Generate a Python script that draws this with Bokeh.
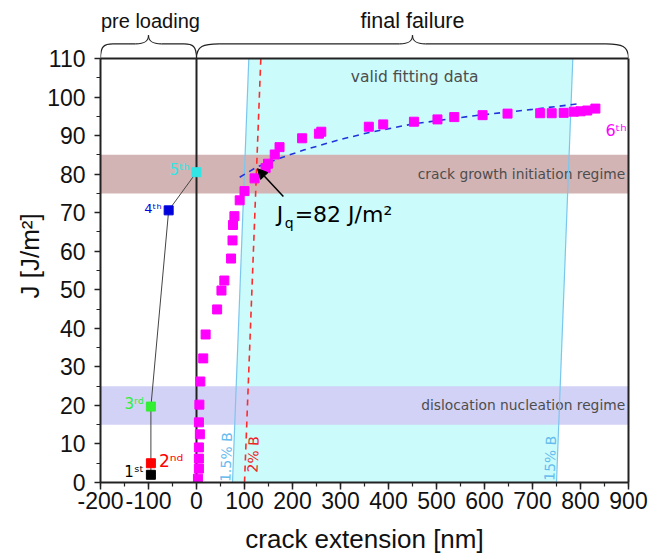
import numpy as np
from bokeh.plotting import figure
from bokeh.models import (SingleIntervalTicker, FixedTicker, LinearAxis, Arrow, NormalHead,
                          NumeralTickFormatter, Label, Title)
from bokeh.core.properties import value
from bokeh.embed import file_html
from bokeh.resources import INLINE

# ---------------- data ----------------
crack_ext = [3, 5, 5, 5, 7, 5, 6, 8, 14, 19, 43, 52, 58, 72, 75, 76, 79, 90, 100, 121,
             144, 149, 163, 173, 220, 255, 260, 359, 389, 453, 502, 537, 596, 648,
             716, 740, 765, 786, 800, 814, 831]
J_vals = [1.0, 3.6, 6.2, 9.1, 12.5, 15.6, 20.2, 26.2, 32.2, 38.4, 44.9, 49.8, 52.4, 58.1,
          62.8, 66.8, 69.1, 73.2, 75.6, 78.9, 81.6, 82.7, 85.1, 87.0, 89.3, 90.5, 91.0,
          92.3, 92.9, 93.6, 94.2, 94.8, 95.3, 95.7, 95.8, 95.8, 95.9, 96.2, 96.3, 96.5, 97.0]

fit_x = [90, 125, 175, 225, 300, 360, 450, 575, 700, 800]
fit_J = [79.2, 81.8, 84.2, 86.3, 89.0, 90.8, 93.0, 95.1, 96.8, 98.3]

pre_x = [-95, -95, -95, -58, 0]
pre_J = [2.0, 5.0, 19.7, 70.6, 80.5]
pre_labels = ["1ˢᵗ", "2ⁿᵈ", "3ʳᵈ", "4ᵗʰ", "5ᵗʰ"]
pre_colors = ["#000000", "#FF0000", "#33EE33", "#0000DD", "#33E5E5"]

offset_labels = ["1.5% B", "2% B", "15% B"]
offset_x0 = [75, 100, 750]      # crack extension at J = 0
offset_x110 = [109, 134, 784]   # crack extension at J = 110

band_lo = [15, 75]
band_hi = [25, 85]
band_labels = ["dislocation nucleation regime", "crack growth initiation regime"]

Jq_x, Jq_J = 125, 82

stage_names = ["pre loading", "final failure"]
stage_from = [-200, 0]
stage_to = [0, 900]

x_lo, x_hi = -200, 900
y_lo, y_hi = 0, 110

# ---------------- figure ----------------
p = figure(frame_width=528, frame_height=473, x_range=(x_lo, x_hi), y_range=(0, 122.71),
           output_backend="svg", toolbar_location=None,
           min_border_left=100, min_border_right=27, min_border_top=9, min_border_bottom=70)
p.outline_line_color = None
p.grid.visible = False
p.background_fill_color = "white"

for ax in (p.xaxis, p.yaxis):
    ax.axis_line_width = 2
    ax.axis_line_color = "#222222"
    ax.major_tick_line_color = "#222222"
    ax.minor_tick_line_color = "#222222"
    ax.major_tick_line_width = 1.5
    ax.minor_tick_line_width = 1.2
    ax.major_tick_in = 0
    ax.major_tick_out = 7
    ax.minor_tick_in = 0
    ax.minor_tick_out = 4
    ax.major_label_text_font = "Liberation Sans"
    ax.major_label_text_font_size = "23px"
    ax.major_label_text_color = "#111111"
    ax.axis_label_text_font = "Liberation Sans"
    ax.axis_label_text_font_size = "26px"
    ax.axis_label_text_font_style = "normal"
    ax.axis_label_text_color = "#111111"
    ax.formatter = NumeralTickFormatter(format="0")
p.xaxis.ticker = SingleIntervalTicker(interval=100, num_minor_ticks=2)
p.yaxis.ticker = SingleIntervalTicker(interval=10, num_minor_ticks=2)
p.yaxis.bounds = (y_lo, y_hi)
p.xaxis.bounds = (x_lo, x_hi)
p.xaxis.axis_label = "crack extension [nm]"
p.xaxis.major_label_standoff = 2
p.yaxis.major_label_standoff = 9
p.yaxis.major_tick_out = 6
p.xaxis.axis_label_standoff = 12

# y axis title, placed from the bottom so it is centred on the 0..110 box
p.add_layout(Title(text="J [J/m²]", align="left", offset=184, standoff=0,
                   text_font="Liberation Sans", text_font_size="26px",
                   text_font_style="normal", text_color="#111111"), "left")

right_ax = LinearAxis(bounds=(y_lo, y_hi), axis_line_width=2, axis_line_color="#222222",
                      ticker=FixedTicker(ticks=[]), major_tick_out=0, minor_tick_out=0)
p.add_layout(right_ax, "right")

# valid fitting region (between 1.5% and 15% offset lines)
p.patch(x=[offset_x0[0], offset_x110[0], offset_x110[2], offset_x0[2]],
        y=[y_lo, y_hi, y_hi, y_lo], fill_color="#CCFBFB", line_color=None)

# regime bands
p.quad(left=[x_lo] * 2, right=[x_hi] * 2, bottom=band_lo, top=band_hi,
       fill_color=["#D2D2F6", "#D3B4B4"], line_color=None)
band_mid = [(a + b) / 2 for a, b in zip(band_lo, band_hi)]
p.text(x=[x_hi - 7] * 2, y=band_mid, text=band_labels, text_align="right",
       text_baseline="middle", text_font=value("DejaVu Sans"), text_font_size="13.8px",
       text_color="#4d4d4d")
p.text(x=[(offset_x110[0] + offset_x110[2]) / 2 + 8], y=[y_hi - 4.9], text=["valid fitting data"],
       text_align="center", text_baseline="middle", text_font=value("DejaVu Sans"),
       text_font_size="15.5px", text_color="#4d4d4d")

# offset lines
p.segment(x0=[offset_x0[0], offset_x0[2]], y0=[y_lo] * 2, x1=[offset_x110[0], offset_x110[2]],
          y1=[y_hi] * 2, line_color="#7CC6EE", line_width=1.2)
p.segment(x0=[offset_x0[1]], y0=[y_lo], x1=[offset_x110[1]], y1=[y_hi],
          line_color="#FF2A2A", line_width=1.6, line_dash="6 5")
ang = np.arctan2(110 * 3.8545, (offset_x110[0] - offset_x0[0]) * 0.48)
lab_J = [6.6, 7.3, 6.3]
lab_x = [x0 + (x1 - x0) * j / 110 for x0, x1, j in zip(offset_x0, offset_x110, lab_J)]
lab_dx = [-15, 16, -15]
p.text(x=[lab_x[i] + lab_dx[i] for i in range(3)], y=lab_J, text=offset_labels,
       angle=ang, text_align="center", text_baseline="middle",
       text_font=value("DejaVu Sans"), text_font_size="14px",
       text_color=["#66BBEE", "#EE2222", "#66BBEE"])

# top border and zero line
p.segment(x0=[x_lo], y0=[y_hi], x1=[x_hi], y1=[y_hi], line_color="#222222", line_width=2)
p.segment(x0=[0], y0=[y_lo], x1=[0], y1=[y_hi], line_color="#222222", line_width=2)

# fit line
p.line(fit_x, fit_J, line_color="#2233DD", line_width=1.6, line_dash="6 5")

# pre loading path
p.line(pre_x, pre_J, line_color="#444444", line_width=1)

# data squares
p.scatter(crack_ext, J_vals, marker="square", size=9, fill_color="#FF00FF", line_color="#FF00FF")
p.scatter(pre_x, pre_J, marker="square", size=9, fill_color=pre_colors, line_color=pre_colors)

# point labels
lab_align = ["right", "left", "right", "right", "right"]
lab_off = [-7, 8, -7, -7, -7]
lab_sizes = ["15px", "17px", "15px", "13px", "15px"]
for i in range(5):
    p.text(x=[pre_x[i]], y=[pre_J[i] + 0.6], text=[pre_labels[i]], x_offset=lab_off[i],
           text_align=lab_align[i], text_baseline="middle", text_font=value("DejaVu Sans"),
           text_font_size=lab_sizes[i], text_color=pre_colors[i])
p.text(x=[crack_ext[-1]], y=[J_vals[-1] - 5.8], text=["6ᵗʰ"], x_offset=10, text_align="left",
       text_baseline="middle", text_font=value("DejaVu Sans"), text_font_size="16px",
       text_color="#FF00FF")

# Jq annotation
tx, ty = Jq_x + 42, Jq_J - 12.6
p.add_layout(Arrow(end=NormalHead(size=10, fill_color="black", line_color="black"),
                   x_start=Jq_x + 56, y_start=Jq_J - 7.8, x_end=Jq_x + 2, y_end=Jq_J - 0.6,
                   line_color="black", line_width=1.5))
p.text(x=[tx], y=[ty], text=["J"], text_align="left", text_baseline="middle",
       text_font=value("DejaVu Sans"), text_font_size="22px", text_color="black")
p.text(x=[tx], y=[ty - 2.0], text=["q"], x_offset=8, text_align="left", text_baseline="middle",
       text_font=value("DejaVu Sans"), text_font_size="14px", text_color="black")
p.text(x=[tx], y=[ty], text=["=82 J/m²"], x_offset=18, text_align="left", text_baseline="middle",
       text_font=value("DejaVu Sans"), text_font_size="22px", text_color="black")

# braces above the plot
bx0, by0, bx1, by1, bcx0, bcy0, bcx1, bcy1 = [], [], [], [], [], [], [], []
sx0, sx1, sy0, sy1 = [], [], [], []
h1, h2 = 3.8, 6.0
for a, b in zip(stage_from, stage_to):
    m = (a + b) / 2
    w = (b - a) * 0.03 + 20
    wt = 27
    bx0 += [a, m - wt, b, m + wt]
    by0 += [y_hi, y_hi + h1, y_hi, y_hi + h1]
    bx1 += [a + w, m, b - w, m]
    by1 += [y_hi + h1, y_hi + h2, y_hi + h1, y_hi + h2]
    bcx0 += [a, m - wt * 0.3, b, m + wt * 0.3]
    bcy0 += [y_hi + h1 * 0.85, y_hi + h1, y_hi + h1 * 0.85, y_hi + h1]
    bcx1 += [a + w * 0.3, m, b - w * 0.3, m]
    bcy1 += [y_hi + h1, y_hi + h1 + 0.6, y_hi + h1, y_hi + h1 + 0.6]
    sx0 += [a + w, m + wt]
    sx1 += [m - wt, b - w]
    sy0 += [y_hi + h1, y_hi + h1]
    sy1 += [y_hi + h1, y_hi + h1]
p.bezier(x0=bx0, y0=by0, x1=bx1, y1=by1, cx0=bcx0, cy0=bcy0, cx1=bcx1, cy1=bcy1,
         line_color="#222222", line_width=1.2)
p.segment(x0=sx0, y0=sy0, x1=sx1, y1=sy1, line_color="#222222", line_width=1.2)
stage_font = ["20px", "21.5px"]
stage_dx = [4, 0]
for i, (name, a, b) in enumerate(zip(stage_names, stage_from, stage_to)):
    p.add_layout(Label(x=(a + b) / 2 + stage_dx[i], y=119.6, text=name, text_align="center",
                       text_baseline="middle", text_font="Liberation Sans",
                       text_font_size=stage_font[i], text_color="#111111"))

open("out.html", "w").write(file_html(p, INLINE))
